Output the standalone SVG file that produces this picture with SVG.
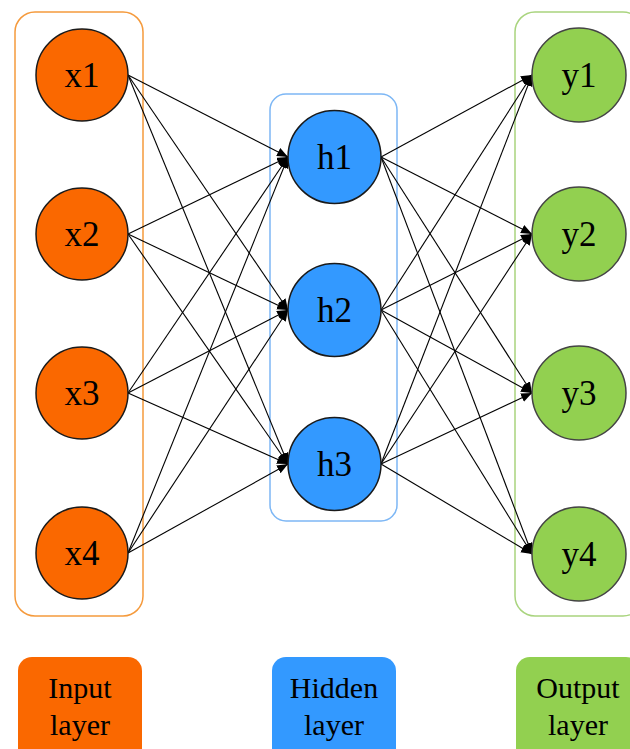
<svg xmlns="http://www.w3.org/2000/svg" width="630" height="749" viewBox="0 0 630 749">
<defs>
<marker id="ah" markerUnits="userSpaceOnUse" markerWidth="12" markerHeight="10" refX="11" refY="4.5" orient="auto">
<path d="M0,0 L11,4.5 L0,9 Z" fill="#000"/>
</marker>
<style>
.in{fill:#FA6800;stroke:#1a1a1a;stroke-width:1.5}
.hid{fill:#3399FF;stroke:#1a1a1a;stroke-width:1.5}
.out{fill:#92D050;stroke:#444;stroke-width:1.5}
.t{font-family:"Liberation Serif","Times New Roman",serif;font-size:35px;fill:#000;text-anchor:middle}
.lt{font-family:"Liberation Serif","Times New Roman",serif;font-size:30px;fill:#000;text-anchor:middle}
.e{stroke:#000;stroke-width:1.1;fill:none;marker-end:url(#ah)}
</style>
</defs>
<rect width="630" height="749" fill="#fff"/>
<g id="layer-boxes">
<rect x="15" y="12" width="128" height="604" rx="20" fill="none" stroke="#F59A3C" stroke-width="1.5"/>
<rect x="270" y="94" width="127" height="427" rx="16" fill="none" stroke="#7DB7F5" stroke-width="1.5"/>
<rect x="515" y="12" width="128" height="604" rx="20" fill="none" stroke="#A9D47E" stroke-width="1.5"/>
</g>
<g id="connectors">
<line class="e" x1="128" y1="75" x2="288" y2="157"/>
<line class="e" x1="128" y1="75" x2="288" y2="310"/>
<line class="e" x1="128" y1="75" x2="288" y2="464"/>
<line class="e" x1="128" y1="234" x2="288" y2="157"/>
<line class="e" x1="128" y1="234" x2="288" y2="310"/>
<line class="e" x1="128" y1="234" x2="288" y2="464"/>
<line class="e" x1="128" y1="393" x2="288" y2="157"/>
<line class="e" x1="128" y1="393" x2="288" y2="310"/>
<line class="e" x1="128" y1="393" x2="288" y2="464"/>
<line class="e" x1="128" y1="553" x2="288" y2="157"/>
<line class="e" x1="128" y1="553" x2="288" y2="310"/>
<line class="e" x1="128" y1="553" x2="288" y2="464"/>
<line class="e" x1="381" y1="157" x2="532" y2="75"/>
<line class="e" x1="381" y1="157" x2="532" y2="234"/>
<line class="e" x1="381" y1="157" x2="532" y2="393"/>
<line class="e" x1="381" y1="157" x2="532" y2="554"/>
<line class="e" x1="381" y1="310" x2="532" y2="75"/>
<line class="e" x1="381" y1="310" x2="532" y2="234"/>
<line class="e" x1="381" y1="310" x2="532" y2="393"/>
<line class="e" x1="381" y1="310" x2="532" y2="554"/>
<line class="e" x1="381" y1="464" x2="532" y2="75"/>
<line class="e" x1="381" y1="464" x2="532" y2="234"/>
<line class="e" x1="381" y1="464" x2="532" y2="393"/>
<line class="e" x1="381" y1="464" x2="532" y2="554"/>
</g>
<g id="x1"><circle class="in" cx="82" cy="75" r="46"/><text class="t" x="82" y="87">x1</text></g>
<g id="x2"><circle class="in" cx="82" cy="234" r="46"/><text class="t" x="82" y="246">x2</text></g>
<g id="x3"><circle class="in" cx="82" cy="393" r="46"/><text class="t" x="82" y="405">x3</text></g>
<g id="x4"><circle class="in" cx="82" cy="553" r="46"/><text class="t" x="82" y="565">x4</text></g>
<g id="h1"><circle class="hid" cx="334.5" cy="157" r="46.5"/><text class="t" x="334.5" y="169">h1</text></g>
<g id="h2"><circle class="hid" cx="334.5" cy="310" r="46.5"/><text class="t" x="334.5" y="322">h2</text></g>
<g id="h3"><circle class="hid" cx="334.5" cy="464" r="46.5"/><text class="t" x="334.5" y="476">h3</text></g>
<g id="y1"><circle class="out" cx="579" cy="75" r="47"/><text class="t" x="579" y="87">y1</text></g>
<g id="y2"><circle class="out" cx="579" cy="234" r="47"/><text class="t" x="579" y="246">y2</text></g>
<g id="y3"><circle class="out" cx="579" cy="393" r="47"/><text class="t" x="579" y="405">y3</text></g>
<g id="y4"><circle class="out" cx="579" cy="554" r="47"/><text class="t" x="579" y="566">y4</text></g>
<g id="legend-input"><rect x="18" y="657" width="124" height="110" rx="14" fill="#FA6800"/><text class="lt" x="80" y="698">Input</text><text class="lt" x="80" y="735">layer</text></g>
<g id="legend-hidden"><rect x="272" y="657" width="124" height="110" rx="14" fill="#3399FF"/><text class="lt" x="334" y="698">Hidden</text><text class="lt" x="334" y="735">layer</text></g>
<g id="legend-output"><rect x="516" y="657" width="124" height="110" rx="14" fill="#92D050"/><text class="lt" x="578" y="698">Output</text><text class="lt" x="578" y="735">layer</text></g>
</svg>
